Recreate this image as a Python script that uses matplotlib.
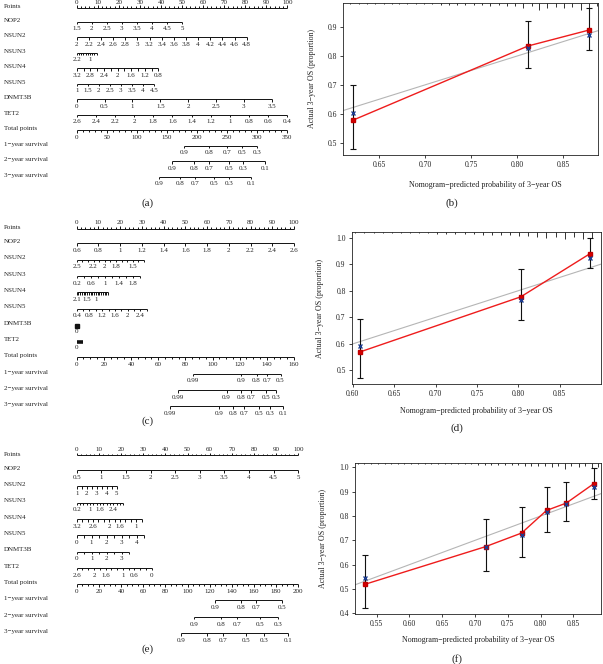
import numpy as np
import matplotlib
matplotlib.use("Agg")
import matplotlib.pyplot as plt
import matplotlib.transforms as mtransforms

plt.rcParams['font.family'] = ['Liberation Serif', 'DejaVu Serif']

W, H = 603, 664
fig = plt.figure(figsize=(W / 100, H / 100), dpi=100)
fig.patch.set_facecolor('white')

# ====================== DATA ======================
var_names = ["NOP2", "NSUN2", "NSUN3", "NSUN4", "NSUN5", "DNMT3B", "TET2"]
surv_names = ["1\u2212year survival", "2\u2212year survival", "3\u2212year survival"]

# each variable: (tick values, labelled values, points at first tick, points at last tick)
nom_a_vars = [
    ([1.5, 2, 2.5, 3, 3.5, 4, 4.5, 5], [1.5, 2, 2.5, 3, 3.5, 4, 4.5, 5], 0, 50),
    ([2, 2.2, 2.4, 2.6, 2.8, 3, 3.2, 3.4, 3.6, 3.8, 4, 4.2, 4.4, 4.6, 4.8],
     [2, 2.2, 2.4, 2.6, 2.8, 3, 3.2, 3.4, 3.6, 3.8, 4, 4.2, 4.4, 4.6, 4.8], 0, 80.7),
    ([2.2, 2.0, 1.8, 1.6, 1.4, 1.2, 1.0, 0.8, 0.6, 0.4], [2.2, 1], 0, 9.5),
    ([3.2, 3.0, 2.8, 2.6, 2.4, 2.2, 2.0, 1.8, 1.6, 1.4, 1.2, 1.0, 0.8],
     [3.2, 2.8, 2.4, 2, 1.6, 1.2, 0.8], 0, 38.8),
    ([1, 1.5, 2, 2.5, 3, 3.5, 4, 4.5], [1, 1.5, 2, 2.5, 3, 3.5, 4, 4.5], 0, 36.7),
    ([0, 0.5, 1, 1.5, 2, 2.5, 3, 3.5], [0, 0.5, 1, 1.5, 2, 2.5, 3, 3.5], 0, 92.6),
    ([2.6, 2.4, 2.2, 2, 1.8, 1.6, 1.4, 1.2, 1, 0.8, 0.6, 0.4],
     [2.6, 2.4, 2.2, 2, 1.8, 1.6, 1.4, 1.2, 1, 0.8, 0.6, 0.4], 0, 100),
]
nom_a_total = (350, 50, 10)
nom_a_surv = [
    ([0.9, 0.8, 0.7, 0.5, 0.3], [178.5, 219.4, 250.3, 275.2, 300.2]),
    ([0.9, 0.8, 0.7, 0.5, 0.3, 0.1], [158.9, 195.5, 219.9, 252.6, 276.9, 313.0]),
    ([0.9, 0.8, 0.7, 0.5, 0.3, 0.1], [136.3, 172.2, 196.1, 228.7, 253.1, 289.2]),
]

nom_c_vars = [
    ([0.6, 0.8, 1, 1.2, 1.4, 1.6, 1.8, 2, 2.2, 2.4, 2.6],
     [0.6, 0.8, 1, 1.2, 1.4, 1.6, 1.8, 2, 2.2, 2.4, 2.6], 0, 100),
    ([2.5, 2.4, 2.3, 2.2, 2.1, 2.0, 1.9, 1.8, 1.7, 1.6, 1.5, 1.4, 1.3],
     [2.5, 2.2, 2, 1.8, 1.5], 0, 31),
    ([0.2, 0.4, 0.6, 0.8, 1.0, 1.2, 1.4, 1.6, 1.8, 2.0], [0.2, 0.6, 1, 1.4, 1.8], 0, 29.1),
    ([2.1, 2.0, 1.9, 1.8, 1.7, 1.6, 1.5, 1.4, 1.3, 1.2, 1.1, 1.0, 0.9, 0.8, 0.7, 0.6, 0.5, 0.4, 0.3],
     [2.1, 1.5, 1], 0, 14.5),
    ([0.4, 0.6, 0.8, 1.0, 1.2, 1.4, 1.6, 1.8, 2.0, 2.2, 2.4, 2.6],
     [0.4, 0.8, 1.2, 1.6, 2, 2.4], 0, 32.2),
    ([0], [0], 0, 0),
    ([0, 0], [0], 0, 2.7),
]
nom_c_total = (160, 20, 5)
nom_c_surv = [
    ([0.99, 0.9, 0.8, 0.7, 0.5], [85.7, 121.1, 132.4, 140.3, 150.1]),
    ([0.99, 0.9, 0.8, 0.7, 0.5, 0.3], [74.6, 110.3, 121.1, 128.5, 139.3, 147.0]),
    ([0.99, 0.9, 0.8, 0.7, 0.5, 0.3, 0.1], [68.9, 104.6, 115.2, 123.0, 134.1, 142.2, 151.8]),
]

nom_e_vars = [
    ([0.5, 1, 1.5, 2, 2.5, 3, 3.5, 4, 4.5, 5], [0.5, 1, 1.5, 2, 2.5, 3, 3.5, 4, 4.5, 5], 0, 100),
    ([1, 1.5, 2, 2.5, 3, 3.5, 4, 4.5, 5], [1, 2, 3, 4, 5], 0, 18),
    ([0.2, 0.4, 0.6, 0.8, 1.0, 1.2, 1.4, 1.6, 1.8, 2.0, 2.2, 2.4, 2.6, 2.8, 3.0],
     [0.2, 1, 1.6, 2.4], 0, 21),
    ([3.2, 3.0, 2.8, 2.6, 2.4, 2.2, 2.0, 1.8, 1.6, 1.4, 1.2, 1.0, 0.8],
     [3.2, 2.6, 2, 1.6, 1], 0, 29.3),
    ([0, 0.5, 1, 1.5, 2, 2.5, 3, 3.5, 4, 4.5], [0, 1, 2, 3, 4], 0, 30.4),
    ([0, 0.5, 1, 1.5, 2, 2.5, 3, 3.5], [0, 1, 2, 3], 0, 23.8),
    ([2.6, 2.4, 2.2, 2.0, 1.8, 1.6, 1.4, 1.2, 1.0, 0.8, 0.6, 0.4, 0.2, 0],
     [2.6, 2, 1.6, 1, 0.6, 0], 0, 33.8),
]
nom_e_total = (200, 20, 5)
nom_e_surv = [
    ([0.9, 0.8, 0.7, 0.5], [124.8, 148.0, 161.8, 185.0]),
    ([0.9, 0.8, 0.7, 0.5, 0.3], [106.1, 130.0, 144.4, 165.4, 182.0]),
    ([0.9, 0.8, 0.7, 0.5, 0.3, 0.1], [94.1, 117.9, 132.3, 152.8, 169.0, 191.0]),
]

# calibration (b)
cal_b_pred = [0.622, 0.812, 0.878]
cal_b_obs = [0.578, 0.835, 0.890]
cal_b_corr = [0.604, 0.828, 0.873]
cal_b_lo = [0.478, 0.757, 0.822]
cal_b_hi = [0.700, 0.922, 0.965]
rug_b_x = [0.619, 0.628, 0.637, 0.646, 0.655, 0.664, 0.672, 0.681, 0.690, 0.699, 0.708,
           0.717, 0.726, 0.735, 0.744, 0.753, 0.762, 0.771, 0.780, 0.789, 0.798, 0.807,
           0.816, 0.824, 0.833, 0.842, 0.851, 0.860, 0.869, 0.878, 0.887]
rug_b_h = [1, 1, 1, 1, 1, 1, 1, 1, 1, 1, 1, 1.5, 1.7, 1.7, 2, 2, 2.3, 2.7, 2.3, 2.7,
           2.7, 5, 3.3, 6.7, 4.7, 4, 5.3, 4, 7.3, 8.3, 2.7]

# calibration (d)
cal_d_pred = [0.609, 0.803, 0.887]
cal_d_obs = [0.570, 0.777, 0.940]
cal_d_corr = [0.592, 0.766, 0.925]
cal_d_lo = [0.470, 0.690, 0.887]
cal_d_hi = [0.693, 0.880, 1.000]
rug_d_x = [0.603, 0.614, 0.625, 0.636, 0.647, 0.658, 0.669, 0.680, 0.691, 0.702, 0.713,
           0.724, 0.735, 0.746, 0.757, 0.768, 0.779, 0.790, 0.801, 0.812, 0.823, 0.834,
           0.845, 0.856, 0.867, 0.878, 0.889]
rug_d_h = [1, 1, 1, 1, 1, 1, 1, 1.3, 1.3, 1.5, 1.7, 2, 2, 2.3, 2.5, 3, 3, 3.3, 4, 4.3,
           5, 6, 5, 6.7, 5, 7.3, 6]

# calibration (f)
cal_f_pred = [0.532, 0.716, 0.771, 0.809, 0.839, 0.881]
cal_f_obs = [0.519, 0.674, 0.730, 0.823, 0.853, 0.933]
cal_f_corr = [0.545, 0.674, 0.723, 0.816, 0.849, 0.918]
cal_f_lo = [0.421, 0.575, 0.633, 0.736, 0.779, 0.869]
cal_f_hi = [0.640, 0.789, 0.839, 0.921, 0.939, 0.999]
rug_f_x = [0.521, 0.531, 0.541, 0.552, 0.562, 0.572, 0.582, 0.592, 0.603, 0.613, 0.623,
           0.633, 0.643, 0.654, 0.664, 0.674, 0.684, 0.694, 0.705, 0.715, 0.725, 0.735,
           0.745, 0.756, 0.766, 0.776, 0.786, 0.796, 0.807, 0.817, 0.827, 0.837, 0.847,
           0.858, 0.868, 0.878, 0.888]
rug_f_h = [1, 1, 1, 1, 1, 1, 1, 1, 1, 1, 1, 1, 1, 1, 1, 1, 1.3, 1.3, 1.5, 1.5, 1.7, 1.7,
           2, 2, 2.3, 2.7, 2.7, 3.3, 3.3, 4, 2.7, 6, 3.3, 4, 3.3, 5, 4]

# ====================== HELPERS ======================
TXT = '#222222'
LINE = '#111111'


def px_axes(l, t, r, b):
    return fig.add_axes([l / W, 1 - b / H, (r - l) / W, (b - t) / H])


def fmt(v):
    s = ('%.2f' % v).rstrip('0').rstrip('.')
    return s


def draw_nomogram(x0, x1, y_nop2, row_h, variables, total, surv):
    # axes whose x data = Points (0..100), y data = row index (NOP2 = 0)
    top = y_nop2 - 1.6 * row_h
    bot = y_nop2 + 11 * row_h
    ax = px_axes(x0, top, x1, bot)
    ax.set_xlim(0, 100)
    ax.set_ylim(11, -1.6)
    ax.axis('off')
    tick_len = 2.6 / row_h
    lab_off = 7.3 / row_h
    lbl_tr = mtransforms.blended_transform_factory(fig.transFigure, ax.transData)
    kw = dict(color=LINE, lw=0.7, solid_capstyle='butt', clip_on=False)

    # Points axis
    yp = -0.9
    ax.plot([0, 100], [yp, yp], **kw)
    for p in range(0, 101, 2):
        ln = tick_len if p % 10 == 0 else tick_len * 0.55
        ax.plot([p, p], [yp, yp - ln], **kw)
    for p in range(0, 101, 10):
        ax.text(p, yp - 0.36, str(p), ha='center', va='center', fontsize=5, color=TXT)
    ax.text(4 / W, yp - 0.05, "Points", transform=lbl_tr, ha='left', va='center',
            fontsize=5, color=TXT)

    # variables
    for i, (name, (ticks, labels, p_first, p_last)) in enumerate(zip(var_names, variables)):
        y = i
        ax.text(4 / W, y - 0.1, name, transform=lbl_tr, ha='left', va='center',
                fontsize=5, color=TXT)
        v0, v1 = ticks[0], ticks[-1]
        if len(ticks) == 1:
            ax.plot([p_first], [y + 0.05], marker='s', ms=2.2, color=LINE, clip_on=False)
            ax.text(p_first, y + lab_off * 0.85, fmt(labels[0]), ha='center', va='center',
                    fontsize=5, color=TXT)
            continue
        if v0 == v1:
            ax.plot([p_first, p_last], [y + 0.05, y + 0.05], color=LINE, lw=2.6,
                    solid_capstyle='butt', clip_on=False)
            ax.text(p_first, y + lab_off * 0.85, fmt(labels[0]), ha='center', va='center',
                    fontsize=5, color=TXT)
            continue

        def to_pts(v):
            return p_first + (v - v0) / (v1 - v0) * (p_last - p_first)
        ax.plot([p_first, p_last], [y, y], **kw)
        for v in ticks:
            p = to_pts(v)
            ax.plot([p, p], [y, y + tick_len], **kw)
        for v in labels:
            ax.text(to_pts(v), y + lab_off, fmt(v), ha='center', va='center',
                    fontsize=5, color=TXT)

    # total points
    tmax, tlab, tminor = total
    y = 7
    sc = 100.0 / tmax
    ax.text(4 / W, y - 0.1, "Total points", transform=lbl_tr, ha='left', va='center',
            fontsize=5, color=TXT)
    ax.plot([0, 100], [y, y], **kw)
    for t in range(0, tmax + 1, tminor):
        ln = tick_len if t % tlab == 0 else tick_len * 0.6
        ax.plot([t * sc, t * sc], [y, y + ln], **kw)
    for t in range(0, tmax + 1, tlab):
        ax.text(t * sc, y + lab_off, str(t), ha='center', va='center', fontsize=5, color=TXT)

    # survival
    for k, (name, (labs, tps)) in enumerate(zip(surv_names, surv)):
        y = 8 + k
        ax.text(4 / W, y - 0.1, name, transform=lbl_tr, ha='left', va='center',
                fontsize=5, color=TXT)
        ps = np.array(tps) * sc
        ax.plot([ps.min(), ps.max()], [y, y], **kw)
        for lab, p in zip(labs, ps):
            ax.plot([p, p], [y, y + tick_len], **kw)
            ax.text(p, y + lab_off, fmt(lab), ha='center', va='center', fontsize=5, color=TXT)
    return ax


def draw_calib(box, xlim, ylim, xticks, yticks, pred, obs, corr, lo, hi, rug_x, rug_h):
    l, t, r, b = box
    ax = px_axes(l, t, r, b)
    ax.set_xlim(*xlim)
    ax.set_ylim(*ylim)
    ax.plot([0, 1.2], [0, 1.2], color='#b5b5b5', lw=0.8, zorder=1)
    pred = np.array(pred); obs = np.array(obs)
    ax.errorbar(pred, obs, yerr=[obs - np.array(lo), np.array(hi) - obs], fmt='none',
                ecolor='#111111', elinewidth=0.8, capsize=2.2, capthick=0.8, zorder=2)
    ax.plot(pred, obs, color='#ee1c1c', lw=1.0, marker='s', ms=2.4, mec='#c00000',
            mfc='#d80000', zorder=3)
    ax.plot(pred, corr, ls='none', marker='x', ms=3.0, mew=1.0, color='#1d3d8f', zorder=4)
    tr = mtransforms.blended_transform_factory(ax.transData, ax.transAxes)
    hpx = b - t
    ax.vlines(rug_x, 1.0, 1.0 - np.array(rug_h) / hpx, transform=tr, color='#111111',
              lw=0.6, zorder=2)
    ax.set_xticks(xticks)
    ax.set_xticklabels(['%.2f' % v for v in xticks])
    ax.set_yticks(yticks)
    ax.set_yticklabels(['%.1f' % v for v in yticks])
    ax.tick_params(labelsize=5.5, length=2.5, width=0.6, colors='#222222', pad=2)
    for s in ax.spines.values():
        s.set_linewidth(0.6)
        s.set_color('#222222')
    return ax


# ====================== NOMOGRAMS ======================
draw_nomogram(76.7, 287.3, 21.7, 15.5, nom_a_vars, nom_a_total, nom_a_surv)
draw_nomogram(76.7, 294.0, 243.3, 16.3, nom_c_vars, nom_c_total, nom_c_surv)
draw_nomogram(76.7, 298.3, 470.0, 16.3, nom_e_vars, nom_e_total, nom_e_surv)

# ====================== CALIBRATION ======================
xl = "Nomogram\u2212predicted probability of 3\u2212year OS"
yl = "Actual 3\u2212year OS (proportion)"

axb = draw_calib((343, 3, 598, 155), (0.611, 0.888), (0.457, 0.984),
                 [0.65, 0.70, 0.75, 0.80, 0.85], [0.5, 0.6, 0.7, 0.8, 0.9],
                 cal_b_pred, cal_b_obs, cal_b_corr, cal_b_lo, cal_b_hi, rug_b_x, rug_b_h)
axd = draw_calib((352, 232, 601, 384), (0.599, 0.900), (0.449, 1.021),
                 [0.60, 0.65, 0.70, 0.75, 0.80, 0.85], [0.5, 0.6, 0.7, 0.8, 0.9, 1.0],
                 cal_d_pred, cal_d_obs, cal_d_corr, cal_d_lo, cal_d_hi, rug_d_x, rug_d_h)
axf = draw_calib((355, 463, 601, 614), (0.517, 0.892), (0.397, 1.018),
                 [0.55, 0.60, 0.65, 0.70, 0.75, 0.80, 0.85], [0.4, 0.5, 0.6, 0.7, 0.8, 0.9, 1.0],
                 cal_f_pred, cal_f_obs, cal_f_corr, cal_f_lo, cal_f_hi, rug_f_x, rug_f_h)

for (xc, yx, xy, yc) in [(485, 185, 312, 79), (476, 411, 320, 308), (478, 640, 323, 538)]:
    fig.text(xc / W, 1 - yx / H, xl, ha='center', va='center', fontsize=5.8, color=TXT)
    fig.text(xy / W, 1 - yc / H, yl, ha='center', va='center', rotation=90,
             fontsize=5.8, color=TXT)

# panel letters
for lab, x, y in [("(a)", 148, 203), ("(b)", 452, 203), ("(c)", 148, 421),
                  ("(d)", 457, 428), ("(e)", 148, 649), ("(f)", 457, 659)]:
    fig.text(x / W, 1 - y / H, lab, ha='center', va='center', fontsize=8, color=TXT)

fig.savefig("out.png", dpi=100, facecolor='white')
